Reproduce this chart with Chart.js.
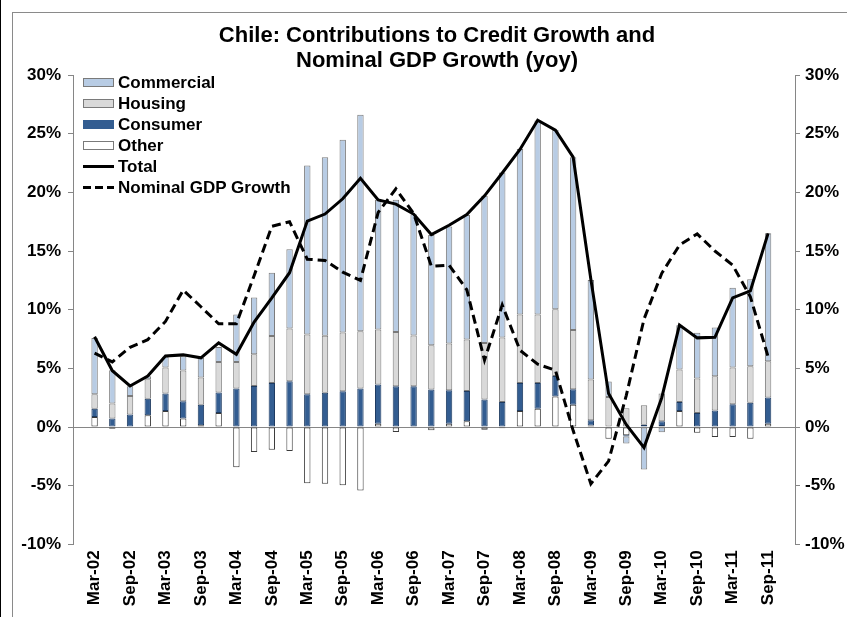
<!DOCTYPE html>
<html>
<head>
<meta charset="utf-8">
<script src="https://cdn.jsdelivr.net/npm/chart.js@4/dist/chart.umd.min.js"></script>
<style>
  html,body{margin:0;padding:0;background:#fff;}
  #wrap{position:relative;width:847px;height:617px;overflow:hidden;font-family:"Liberation Sans",Arial,sans-serif;}
  #frame{position:absolute;left:12px;top:12px;width:900px;height:700px;border-left:1px solid #8a8a8a;border-top:1px solid #8a8a8a;}
  #edge{position:absolute;left:0;top:0;width:1px;height:617px;background:#000;}
  #title{position:absolute;left:87px;width:700px;top:22px;text-align:center;font-weight:bold;font-size:22px;line-height:25px;color:#000;}
  #legend{position:absolute;left:83px;top:72px;}
  .item{display:flex;align-items:center;height:21px;font-weight:bold;font-size:17px;color:#000;}
  .sw{width:31px;height:9px;margin-right:4px;box-sizing:border-box;}
  canvas{position:absolute;left:0;top:0;}
</style>
</head>
<body>
<div id="wrap">
  <canvas id="chart" width="847" height="617"></canvas>
  <div id="edge"></div>
  <div id="frame"></div>
  <div id="title">Chile: Contributions to Credit Growth and<br>Nominal GDP Growth (yoy)</div>
  <div id="legend"></div>
</div>
<script>
// quarterly, yoy %, contributions by credit type
const quarters=['Mar-02','Jun-02','Sep-02','Dec-02','Mar-03','Jun-03','Sep-03','Dec-03',
  'Mar-04','Jun-04','Sep-04','Dec-04','Mar-05','Jun-05','Sep-05','Dec-05',
  'Mar-06','Jun-06','Sep-06','Dec-06','Mar-07','Jun-07','Sep-07','Dec-07',
  'Mar-08','Jun-08','Sep-08','Dec-08','Mar-09','Jun-09','Sep-09','Dec-09',
  'Mar-10','Jun-10','Sep-10','Dec-10','Mar-11','Jun-11','Sep-11'];

const commercial=[4.8,2.84,0.82,0.26,0.91,1.22,1.68,1.28,
  4.05,4.84,5.4,6.75,14.4,15.23,16.42,18.45,
  11.05,11.25,10.33,9.39,9.96,10.62,12.53,14.06,
  14.09,16.53,15.3,14.74,8.48,1.33,-0.6,-3.61,
  -0.45,3.78,3.9,4.16,6.8,7.41,10.9];
const housing=[1.22,1.28,1.59,1.65,2.22,2.62,2.31,2.61,
  2.27,2.71,3.99,4.5,5.1,4.84,5.01,4.89,
  4.69,4.64,4.33,3.79,3.99,4.39,4.83,5.49,
  5.84,5.84,5.67,5.04,3.48,2.51,1.6,1.65,
  2.35,2.76,2.93,2.91,3.13,3.1,3.1];
const consumer=[0.72,0.72,1.06,1.42,1.48,1.47,1.76,1.74,
  3.28,3.5,3.76,3.9,2.79,2.93,3.05,3.28,
  3.34,3.47,3.42,3.19,2.85,2.58,2.34,2.14,
  2.39,2.19,1.76,1.31,0.43,0.05,-0.1,0.2,
  0.4,0.77,1.2,1.42,1.94,2.08,2.23];
const other=[0.85,-0.15,0,1.0,1.37,0.72,0.15,1.2,
  -3.42,-2.13,-1.93,-2.05,-4.78,-4.84,-4.95,-5.4,
  0.28,-0.43,0.05,-0.28,0.28,0.49,-0.23,-0.1,
  1.37,1.57,2.6,1.91,0.14,-0.99,-0.7,0,
  0.1,1.37,-0.48,-0.85,-0.85,-0.99,0.28];
const total=[7.7,4.8,3.5,4.35,6.05,6.15,5.9,7.17,
  6.2,8.95,11.0,13.15,17.55,18.15,19.45,21.2,
  19.36,19.0,18.15,16.4,17.2,18.1,19.7,21.65,
  23.65,26.15,25.3,23.0,12.6,2.85,0.2,-1.75,
  2.5,8.7,7.6,7.65,11.0,11.6,16.5];
const nominalGdp=[6.3,5.55,6.8,7.45,9.0,11.67,10.25,8.8,
  8.8,12.9,17.1,17.5,14.3,14.2,13.2,12.5,
  18.3,20.3,18.2,13.7,13.8,11.7,5.7,10.4,
  6.55,5.35,4.84,-0.3,-4.84,-2.9,2.7,9.2,
  13.1,15.5,16.46,15.0,13.8,11.1,6.0];

const yTicks=[-10,-5,0,5,10,15,20,25,30];

const FONT={family:'"Liberation Sans", Arial, sans-serif',size:17,weight:'bold'};
const AXIS_GREY='#868686';

const pts=arr=>arr.map((v,i)=>({x:i,y:v}));

function barSet(label,arr,fill,edge){
  return {type:'bar',label,data:pts(arr),backgroundColor:fill,borderColor:edge,borderWidth:1,
    borderSkipped:false,barPercentage:0.36,categoryPercentage:1,yAxisID:'y'};
}

// lines first so they are painted over the bars; bars stack bottom-up in array order
const datasets=[
  {type:'line',label:'Total',data:pts(total),borderColor:'#000',borderWidth:3,pointRadius:0,tension:0,yAxisID:'y2'},
  {type:'line',label:'Nominal GDP Growth',data:pts(nominalGdp),borderColor:'#000',borderWidth:3,borderDash:[9,5],pointRadius:0,tension:0,yAxisID:'y2'},
  barSet('Other',other,'#ffffff','#3a3a3a'),
  barSet('Consumer',consumer,'#335d91','#1d3a60'),
  barSet('Housing',housing,'#d9d9d9','#7a7a7a'),
  barSet('Commercial',commercial,'#b8cce4','#7a7a7a')
];

const yCommon={
  min:-10,max:30,
  afterBuildTicks:s=>{s.ticks=yTicks.map(v=>({value:v}));},
  ticks:{font:FONT,color:'#000',callback:v=>v+'%'},
  border:{display:true,color:AXIS_GREY,width:1}
};

new Chart(document.getElementById('chart'),{
  data:{datasets},
  options:{
    responsive:false,
    animation:false,
    devicePixelRatio:1,
    layout:{padding:{top:75,left:0,right:0,bottom:0}},
    plugins:{legend:{display:false},tooltip:{enabled:false}},
    scales:{
      x:{
        type:'linear',min:-0.2,max:38.5,stacked:true,
        afterBuildTicks:s=>{s.ticks=quarters.map((q,i)=>i).filter(i=>i%2===0).map(i=>({value:i}));},
        afterFit:s=>{s.height=72.6;},
        grid:{display:false,drawTicks:false},
        border:{display:false},
        ticks:{font:FONT,color:'#000',autoSkip:false,maxRotation:90,minRotation:90,padding:6,
          callback:v=>quarters[v]}
      },
      y:Object.assign({},yCommon,{
        position:'left',stacked:true,
        afterFit:s=>{s.width=73;},
        grid:{drawOnChartArea:true,tickLength:5,tickColor:AXIS_GREY,
          color:c=>c.tick&&c.tick.value===0?AXIS_GREY:'rgba(0,0,0,0)'},
        ticks:Object.assign({},yCommon.ticks,{padding:7})
      }),
      y2:Object.assign({},yCommon,{
        position:'right',
        afterFit:s=>{s.width=52;},
        grid:{drawOnChartArea:false,tickLength:5,tickColor:AXIS_GREY},
        ticks:Object.assign({},yCommon.ticks,{padding:5})
      })
    }
  }
});

// legend: bar series top-down as stacked, then the two lines
const legend=document.getElementById('legend');
const entries=[datasets[5],datasets[4],datasets[3],datasets[2],datasets[0],datasets[1]];
entries.forEach(d=>{
  const row=document.createElement('div');row.className='item';
  const sw=document.createElement('div');sw.className='sw';
  if(d.type==='bar'){
    sw.style.background=d.backgroundColor;
    sw.style.border='1px solid '+(d.label==='Consumer'?d.backgroundColor:'#7a7a7a');
  }else if(d.borderDash){
    sw.style.height='3px';
    sw.style.background='repeating-linear-gradient(to right,#000 0 8px,transparent 8px 12px)';
  }else{
    sw.style.height='3px';sw.style.background='#000';
  }
  const t=document.createElement('span');t.textContent=d.label;
  row.appendChild(sw);row.appendChild(t);legend.appendChild(row);
});
</script>
</body>
</html>
